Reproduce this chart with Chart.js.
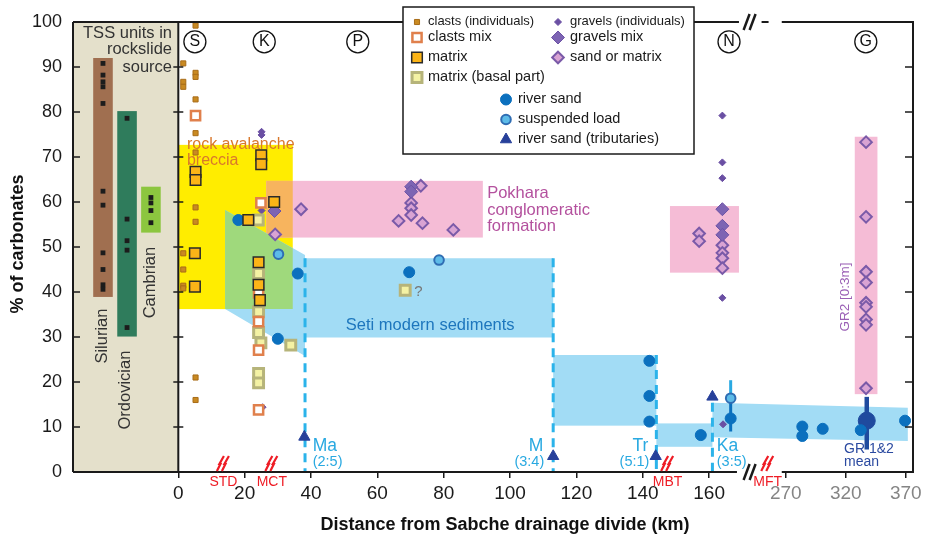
<!DOCTYPE html>
<html>
<head>
<meta charset="utf-8">
<script src="https://cdn.jsdelivr.net/npm/chart.js@4.4.1/dist/chart.umd.min.js"></script>
<style>
html, body { margin: 0; padding: 0; background: #fff; }
</style>
</head>
<body>
<canvas id="chart" width="932" height="546"></canvas>
<script>
const FONT = '"Liberation Sans", Arial, Helvetica, sans-serif';

// x axis in km, broken after 160 km (the far reach is compressed)
const tickKm = [0, 20, 40, 60, 80, 100, 120, 140, 160, 270, 320, 370];
const tickLabels = ['0', '20', '40', '60', '80', '100', '120', '140', '160', '270', '320', '370'];
const yTicks = [0, 10, 20, 30, 40, 50, 60, 70, 80, 90, 100];

// TSS units in rockslide source
const tssUnits = ['Silurian', 'Ordovician', 'Cambrian'];
const tssRange = [[38.9, 92], [30.1, 80.2], [53.2, 63.4]];
const tssSilurian = [90.8, 88.2, 86.7, 85.6, 81.9, 62.4, 59.3, 48.7, 45, 41.6, 40.6];
const tssOrdovician = [78.6, 56.2, 51.4, 49.3, 32.1];
const tssCambrian = [61, 59.8, 58.1, 55.4];

// samples: [km, % carbonates]
const clastsInd = [[5.2, 99.2], [1.5, 90.8], [5.2, 88.7], [5.2, 87.8], [1.5, 86.7], [1.5, 85.6], [5.2, 82.8], [5.2, 75.3], [5.2, 71], [5.2, 58.8], [5.2, 55.6], [1.5, 48.6], [1.5, 45], [1.5, 41.4], [1.5, 40.8], [5.2, 21], [5.2, 16]];
const clastsMix = [[5.2, 79.2], [24.9, 59.8], [24.2, 39.8], [24.2, 33.4], [24.2, 27.1], [24.2, 13.8]];
const matrix = [[5.2, 66.7], [5.2, 64.9], [25, 70.4], [25, 68.4], [28.9, 60], [21.1, 56], [5, 48.6], [5, 41.2], [24.2, 46.6], [24.2, 41.6], [24.6, 38.2]];
const matrixBasal = [[24.1, 56], [24.2, 44.1], [24.2, 35.6], [24.2, 31], [24.9, 28.7], [33.9, 28.2], [24.2, 21.9], [24.2, 19.8], [68.4, 40.4]];
const gravelsInd = [[25.1, 75.6], [25.1, 74.9], [25.1, 58.1], [25.4, 14.4], [164, 79.2], [164, 68.8], [164, 65.3], [164, 38.7], [164.2, 10.6]];
const gravelsMix = [[29, 58], [70.2, 63.4], [70.2, 62.3], [164, 58.4], [164, 54.7], [164, 52.7]];
const sandMatrix = [[37, 58.4], [29.2, 52.8], [70.2, 59.8], [70.2, 58.6], [70.2, 57.1], [66.4, 55.8], [73.1, 63.6], [73.6, 55.3], [82.9, 53.8],
  [157, 53], [157, 51.3], [164, 50.4], [164, 48.7], [164, 47.5], [164, 45.3],
  [336.9, 73.3], [336.9, 56.7], [336.9, 44.5], [336.9, 42.1], [336.9, 37.6], [336.9, 36.7], [336.9, 33.9], [336.9, 32.7], [336.9, 18.6]];
const riverSand = [[18.1, 56], [36, 44.1], [30, 29.6], [69.6, 44.4], [142, 24.7], [142, 16.9], [142, 11.2], [157.5, 8.2], [166.5, 11.9],
  [283.8, 10.1], [283.8, 8], [300.8, 9.6], [332.5, 9.3], [369.4, 11.4]];
const suspendedLoad = [[30.2, 48.4], [78.6, 47.1], [166.5, 16.4]];
const tributaries = [[38, 7.8], [113, 3.5], [143.9, 3.5], [161, 16.7]];
const grMean = [[337.5, 11.4]];
const grMeanRange = [5, 16.7];
const kaRange = [9, 20.4];

// fields: [[x0, y0], [x1, y1]] or polygons
const brecciaBox = [[0, 36.2], [34.5, 72.7]];
const pokharaBox = [[26.5, 52.1], [91.8, 64.7]];
const nepalBox = [[148.2, 44.3], [169, 59.1]];
const gr2Box = [[327.5, 17.3], [346.4, 74.5]];
const setiPoly = [[14.1, 58.2], [38.2, 48.2], [38.2, 47.5], [113, 47.5], [113, 29.9], [38.2, 29.9], [38.2, 25.8], [14.1, 36.2]];
const trBox = [[113, 10.3], [144.1, 26]];
const trKaBox = [[144.1, 5.6], [161, 10.8]];
const gangaPoly = [[161, 15.4], [371.7, 14.3], [371.7, 6.9], [161, 7.7]];
const greenPoly = [[14.1, 58.2], [34.5, 49.7], [34.5, 36.2], [14.1, 36.2]];

const tribNames = ['Ma', 'M', 'Tr', 'Ka'];
const tribRatios = ['(2:5)', '(3:4)', '(5:1)', '(3:5)'];
const tribKm = [38.2, 113, 144.1, 161];
const tribTop = [47.5, 47.5, 26, 15.4];
const faultNames = ['STD', 'MCT', 'MBT', 'MFT'];
const faultKm = [13.6, 28.2, 147.5, 255];
const siteNames = ['S', 'K', 'P', 'N', 'G'];
const siteKm = [5, 25.9, 54.1, 166, 336.7];

function u(km) {
    return km < 200 ? km : 183.1 + (km - 270) * 0.3618;
}
function pts(arr) {
    return arr.map(p => ({x: u(p[0]), y: p[1]}));
}
const tssX = [-22.7, -15.45, -8.25];
const tssColors = ['#a06f50', '#2f7c5c', '#8cc63f'];

const datasets = [
    {label: 'matrix', data: pts(matrix), pointStyle: 'rect', pointRadius: 7.5, backgroundColor: '#fbb417', borderColor: '#2a2a2a', borderWidth: 1.5},
    {label: 'clasts mix', data: pts(clastsMix), pointStyle: 'rect', pointRadius: 6.5, backgroundColor: '#ffffff', borderColor: '#e0804c', borderWidth: 2.5},
    {label: 'matrix (basal part)', data: pts(matrixBasal), pointStyle: 'rect', pointRadius: 7, backgroundColor: '#f4f2a4', borderColor: '#b6b47a', borderWidth: 3},
    {label: 'clasts (individuals)', data: pts(clastsInd), pointStyle: 'rect', pointRadius: 3.6, backgroundColor: '#c98a22', borderColor: '#a86c18', borderWidth: 1},
    {label: 'gravels (individuals)', data: pts(gravelsInd), pointStyle: 'rectRot', pointRadius: 3.5, backgroundColor: '#6a4fa3', borderColor: '#6a4fa3', borderWidth: 1},
    {label: 'gravels mix', data: pts(gravelsMix), pointStyle: 'rectRot', pointRadius: 6.5, backgroundColor: '#7d64b3', borderColor: '#6c52a6', borderWidth: 1},
    {label: 'sand or matrix', data: pts(sandMatrix), pointStyle: 'rectRot', pointRadius: 5.8, backgroundColor: '#d9a3d3', borderColor: '#7a5aa8', borderWidth: 2},
    {label: 'river sand', data: pts(riverSand), pointStyle: 'circle', pointRadius: 5.5, backgroundColor: '#0b70be', borderColor: '#0b70be', borderWidth: 1},
    {label: 'suspended load', data: pts(suspendedLoad), pointStyle: 'circle', pointRadius: 4.8, backgroundColor: '#5dbbe8', borderColor: '#2f6db3', borderWidth: 2},
    {label: 'river sand (tributaries)', data: pts(tributaries), pointStyle: 'triangle', pointRadius: 6.5, backgroundColor: '#27409a', borderColor: '#27409a', borderWidth: 1},
    {label: 'GR 1&2 mean', data: pts(grMean), pointStyle: 'circle', pointRadius: 8.5, backgroundColor: '#1f4a9e', borderColor: '#1f4a9e', borderWidth: 1},
    {label: 'tss', data: tssSilurian.map(v => ({x: tssX[0], y: v}))
        .concat(tssOrdovician.map(v => ({x: tssX[1], y: v})))
        .concat(tssCambrian.map(v => ({x: tssX[2], y: v}))),
        pointStyle: 'rect', pointRadius: 3.4, backgroundColor: '#1c1c1c', borderColor: '#1c1c1c', borderWidth: 0}
];

function marker(ctx, ds, x, y) {
    const r = ds.pointRadius;
    ctx.beginPath();
    if (ds.pointStyle === 'rect') {
        const s = r * Math.SQRT1_2;
        ctx.rect(x - s, y - s, 2 * s, 2 * s);
    } else if (ds.pointStyle === 'rectRot') {
        ctx.moveTo(x - r, y); ctx.lineTo(x, y - r); ctx.lineTo(x + r, y); ctx.lineTo(x, y + r); ctx.closePath();
    } else if (ds.pointStyle === 'triangle') {
        for (let i = 0; i < 3; i++) {
            const a = i * 2 * Math.PI / 3;
            i ? ctx.lineTo(x + Math.sin(a) * r, y - Math.cos(a) * r) : ctx.moveTo(x + Math.sin(a) * r, y - Math.cos(a) * r);
        }
        ctx.closePath();
    } else {
        ctx.arc(x, y, r, 0, Math.PI * 2);
    }
    ctx.fillStyle = ds.backgroundColor;
    ctx.fill();
    if (ds.borderWidth) {
        ctx.lineWidth = ds.borderWidth;
        ctx.strokeStyle = ds.borderColor;
        ctx.stroke();
    }
}

const deco = {
    id: 'deco',
    beforeDatasetsDraw(chart) {
        const {ctx, chartArea: a, scales: {x, y}} = chart;
        const X = km => x.getPixelForValue(u(km));
        const Y = v => y.getPixelForValue(v);
        const box = (b, color) => {
            ctx.fillStyle = color;
            ctx.fillRect(X(b[0][0]), Y(b[1][1]), X(b[1][0]) - X(b[0][0]), Y(b[0][1]) - Y(b[1][1]));
        };
        const poly = (p, color) => {
            ctx.beginPath();
            p.forEach((q, i) => i ? ctx.lineTo(X(q[0]), Y(q[1])) : ctx.moveTo(X(q[0]), Y(q[1])));
            ctx.closePath();
            ctx.fillStyle = color;
            ctx.fill();
        };
        const txt = (s, km, v, size, color, align, rot) => {
            ctx.save();
            ctx.translate(X(km), Y(v));
            if (rot) ctx.rotate(-Math.PI / 2);
            ctx.font = size + 'px ' + FONT;
            ctx.fillStyle = color;
            ctx.textAlign = align || 'left';
            ctx.textBaseline = 'middle';
            ctx.fillText(s, 0, 0);
            ctx.restore();
        };
        ctx.save();
        ctx.fillStyle = '#e4e0cb';
        ctx.fillRect(a.left, a.top, X(0) - a.left, a.bottom - a.top);
        tssUnits.forEach((n, i) => box([[tssX[i] - 2.95, tssRange[i][0]], [tssX[i] + 2.95, tssRange[i][1]]], tssColors[i]));

        box(brecciaBox, '#ffed00');
        box(pokharaBox, '#f5bcd6');
        box([[Math.max(brecciaBox[0][0], pokharaBox[0][0]), Math.max(brecciaBox[0][1], pokharaBox[0][1])],
             [Math.min(brecciaBox[1][0], pokharaBox[1][0]), Math.min(brecciaBox[1][1], pokharaBox[1][1])]], '#f7b45e');
        box(nepalBox, '#f5bcd6');
        box(gr2Box, '#f5bcd6');
        poly(setiPoly, '#a2dcf5');
        box(trBox, '#a2dcf5');
        box(trKaBox, '#a2dcf5');
        poly(gangaPoly, '#a2dcf5');
        poly(greenPoly, '#9fd97c');

        // tributary confluences
        ctx.strokeStyle = '#2bb3ea';
        ctx.lineWidth = 3;
        ctx.setLineDash([9, 6]);
        tribKm.forEach((k, i) => {
            ctx.beginPath();
            ctx.moveTo(X(k), Y(tribTop[i]));
            ctx.lineTo(X(k), Y(0));
            ctx.stroke();
        });
        ctx.setLineDash([]);

        // ranges
        ctx.lineWidth = 3;
        ctx.strokeStyle = '#2aa9e2';
        ctx.beginPath(); ctx.moveTo(X(166.5), Y(kaRange[1])); ctx.lineTo(X(166.5), Y(16.4)); ctx.stroke();
        ctx.strokeStyle = '#0b70be';
        ctx.beginPath(); ctx.moveTo(X(166.5), Y(16.4)); ctx.lineTo(X(166.5), Y(kaRange[0])); ctx.stroke();
        ctx.strokeStyle = '#1f4a9e';
        ctx.lineWidth = 4.5;
        ctx.beginPath(); ctx.moveTo(X(grMean[0][0]), Y(grMeanRange[1])); ctx.lineTo(X(grMean[0][0]), Y(grMeanRange[0])); ctx.stroke();

        // labels
        txt('TSS units in', -1.9, 97.5, 16.5, '#333', 'right');
        txt('rockslide', -1.9, 93.8, 16.5, '#333', 'right');
        txt('source', -1.9, 89.9, 16.5, '#333', 'right');
        txt('Silurian', -22.9, 30.2, 16.5, '#333', 'center', true);
        txt('Ordovician', -15.9, 18.2, 16.5, '#333', 'center', true);
        txt('Cambrian', -8.3, 42.1, 16.5, '#333', 'center', true);
        txt('rock avalanche', 2.6, 72.7, 16, '#d9782c');
        txt('breccia', 2.6, 69.1, 16, '#d9782c');
        txt('Pokhara', 93.1, 62, 16.5, '#b4519e');
        txt('conglomeratic', 93.1, 58.2, 16.5, '#b4519e');
        txt('formation', 93.1, 54.5, 16.5, '#b4519e');
        txt('Seti modern sediments', 50.5, 32.5, 16.5, '#1d76bd');
        txt('?', 71.1, 40, 15, '#777');
        const tribAlign = ['left', 'right', 'right', 'left'];
        const tribTx = [40.5, 110, 141.7, 162.3];
        tribNames.forEach((n, i) => {
            txt(n, tribTx[i], 5.8, 17.5, '#29a9e1', tribAlign[i]);
            txt(tribRatios[i], tribTx[i] + (tribAlign[i] === 'left' ? 0 : 0.3), 2.2, 14.5, '#29a9e1', tribAlign[i]);
        });
        txt('GR 1&2', 318.6, 5.1, 14, '#2b4aa0');
        txt('mean', 318.6, 2.2, 14, '#2b4aa0');
        txt('GR2 [0:3m]', 320, 38.9, 13.5, '#9a5fb5', 'center', true);

        // sites
        siteNames.forEach((n, i) => {
            ctx.beginPath();
            ctx.arc(X(siteKm[i]), Y(95.6), 11, 0, Math.PI * 2);
            ctx.lineWidth = 1.3;
            ctx.strokeStyle = '#111';
            ctx.stroke();
            txt(n, siteKm[i], 95.6, 16, '#111', 'center');
        });
        ctx.restore();
    },
    afterDatasetsDraw(chart) {
        const {ctx, chartArea: a, scales: {x, y}} = chart;
        const X = km => x.getPixelForValue(u(km));
        const Y = v => y.getPixelForValue(v);
        const xb0 = x.getPixelForValue(169.0), xb1 = x.getPixelForValue(181.9), xbm = x.getPixelForValue(172.2);
        ctx.save();
        ctx.strokeStyle = '#1a1a1a';
        ctx.lineWidth = 2;
        const hline = (yy, x0, x1) => { ctx.beginPath(); ctx.moveTo(x0, yy); ctx.lineTo(x1, yy); ctx.stroke(); };
        hline(a.top, a.left, xb0);
        hline(a.top, xbm + 12, xbm + 19);
        hline(a.top, xb1, a.right + 1);
        hline(a.bottom, a.left, xb0 - 2);
        hline(a.bottom, xb1, a.right + 1);
        [a.top, a.bottom].forEach(yy => {
            ctx.lineWidth = 2.5;
            [-3, 3].forEach(o => {
                ctx.beginPath();
                ctx.moveTo(xbm + o - 3, yy + 8);
                ctx.lineTo(xbm + o + 3, yy - 8);
                ctx.stroke();
            });
        });
        ctx.lineWidth = 2;
        [a.left, X(0), a.right].forEach(xx => {
            ctx.beginPath(); ctx.moveTo(xx, a.top); ctx.lineTo(xx, a.bottom); ctx.stroke();
        });
        ctx.lineWidth = 1.5;
        yTicks.forEach(v => {
            const yy = Y(v);
            hline(yy, a.left, a.left + 7);
            hline(yy, X(0) - 5, X(0) + 5);
            hline(yy, a.right - 8, a.right);
        });

        // faults
        ctx.strokeStyle = '#ee1c25';
        ctx.fillStyle = '#ee1c25';
        faultKm.forEach((k, i) => {
            const cx = X(k);
            ctx.lineWidth = 2.2;
            [-2.5, 2.5].forEach(o => {
                ctx.beginPath();
                ctx.moveTo(cx + o - 4, a.bottom - 1);
                ctx.lineTo(cx + o - 0.5, a.bottom - 8);
                ctx.lineTo(cx + o - 1.5, a.bottom - 8);
                ctx.lineTo(cx + o + 3, a.bottom - 16);
                ctx.stroke();
            });
            ctx.font = '14px ' + FONT;
            ctx.textAlign = 'center';
            ctx.textBaseline = 'middle';
            ctx.fillText(faultNames[i], cx, a.bottom + 10);
        });

        ctx.fillStyle = '#111';
        ctx.font = 'bold 18px ' + FONT;
        ctx.textAlign = 'center';
        ctx.textBaseline = 'middle';
        ctx.fillText('Distance from Sabche drainage divide (km)', 505, 525);
        ctx.save();
        ctx.translate(18, 244);
        ctx.rotate(-Math.PI / 2);
        ctx.fillText('% of carbonates', 0, 0);
        ctx.restore();
        ctx.restore();
    },
    afterDraw(chart) {
        const ctx = chart.ctx;
        const ds = chart.data.datasets;
        ctx.save();
        ctx.fillStyle = '#fff';
        ctx.fillRect(403, 7, 291, 147);
        ctx.strokeStyle = '#1a1a1a';
        ctx.lineWidth = 1.5;
        ctx.strokeRect(403, 7, 291, 147);
        const items = [
            [3, 417, 22, 428, 13], [1, 417, 37.5, 428, 14.5], [0, 417, 57.5, 428, 14.5], [2, 417, 77.5, 428, 14.5],
            [4, 558, 22, 570, 13], [5, 558, 37.5, 570, 14.5], [6, 558, 57.5, 570, 14.5],
            [7, 506, 99.5, 518, 14.5], [8, 506, 119.5, 518, 14.5], [9, 506, 139.5, 518, 14.5]
        ];
        items.forEach(it => {
            marker(ctx, ds[it[0]], it[1], it[2]);
            ctx.fillStyle = '#1a1a1a';
            ctx.font = it[4] + 'px ' + FONT;
            ctx.textAlign = 'left';
            ctx.textBaseline = 'middle';
            ctx.fillText(ds[it[0]].label, it[3], it[2] - 1);
        });
        ctx.restore();
    }
};

const chart = new Chart(document.getElementById('chart').getContext('2d'), {
    type: 'scatter',
    data: {datasets: datasets},
    options: {
        responsive: false,
        animation: false,
        events: [],
        layout: {padding: {top: 22, right: 19, left: 0, bottom: 0}},
        plugins: {legend: {display: false}, tooltip: {enabled: false}},
        scales: {
            x: {
                type: 'linear',
                min: -31.74,
                max: 221.46,
                afterBuildTicks: s => { s.ticks = tickKm.map(k => ({value: u(k)})); },
                afterFit: s => { s.height = 74; },
                border: {display: false},
                grid: {display: true, drawOnChartArea: false, drawTicks: true, tickLength: 6, color: '#1a1a1a', lineWidth: 1.5},
                ticks: {
                    autoSkip: false,
                    maxRotation: 0,
                    padding: 4,
                    font: {size: 19, family: FONT},
                    color: c => (c.tick && c.tick.value > 170 ? '#858585' : '#1a1a1a'),
                    callback: (v, i) => tickLabels[i]
                }
            },
            y: {
                min: 0,
                max: 100,
                afterBuildTicks: s => { s.ticks = yTicks.map(v => ({value: v})); },
                afterFit: s => { s.width = 73; },
                border: {display: false},
                grid: {display: false, drawTicks: false},
                ticks: {padding: 11, font: {size: 18, family: FONT}, color: '#1a1a1a'}
            }
        }
    },
    plugins: [deco]
});
</script>
</body>
</html>
